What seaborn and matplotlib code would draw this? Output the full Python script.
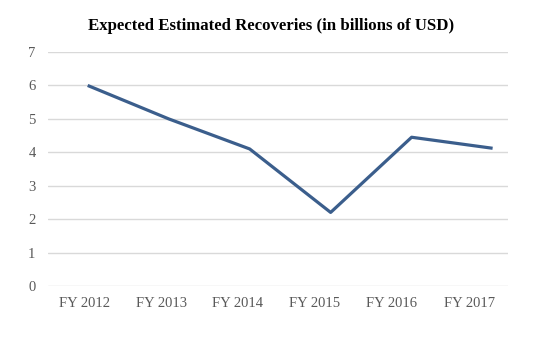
import matplotlib
matplotlib.use("Agg")
import matplotlib.pyplot as plt
import matplotlib.transforms as mtransforms
import seaborn as sns
import pandas as pd

categories = ["FY 2012", "FY 2013", "FY 2014", "FY 2015", "FY 2016", "FY 2017"]
recoveries = [6.0, 5.0, 4.1, 2.2, 4.45, 4.12]
y_ticks = [0, 1, 2, 3, 4, 5, 6, 7]

sns.set_theme(style="white")
plt.rcParams['font.family'] = ['Liberation Serif', 'DejaVu Serif']

df = pd.DataFrame({"year": categories, "value": recoveries})

fig = plt.figure(figsize=(5.48, 3.47), dpi=100)
ax = fig.add_axes([0.0876, 0.176, 0.927 - 0.0876, 0.850 - 0.176])

sns.lineplot(data=df, x="year", y="value", ax=ax, color="#3B5E8C",
             linewidth=2.3, sort=False, solid_capstyle="butt")

ax.set_ylim(0, 7)
ax.set_yticks(y_ticks)
ax.set_xlim(-0.49, 5.19)
ax.yaxis.grid(True, color="#D9D9D9", linewidth=1.0)
ax.set_axisbelow(True)
for s in ax.spines.values():
    s.set_visible(False)
ax.tick_params(axis="both", length=0, colors="#595959", labelsize=10.5)
ax.tick_params(axis="y", pad=9)
ax.tick_params(axis="x", pad=8)
ax.set_xlabel("")
ax.set_ylabel("")

# category labels sit slightly left of the data points, as in the reference
shifts_px = [-3, -7.5, -12, -16.5, -20, -23]
for lab, dx in zip(ax.get_xticklabels(), shifts_px):
    lab.set_transform(lab.get_transform() +
                      mtransforms.ScaledTranslation(dx / 100, 0, fig.dpi_scale_trans))

fig.suptitle("Expected Estimated Recoveries (in billions of USD)",
             x=0.495, y=0.948, fontsize=12.1, fontweight="bold", color="black")

fig.savefig("out.png", dpi=100, facecolor="white")
